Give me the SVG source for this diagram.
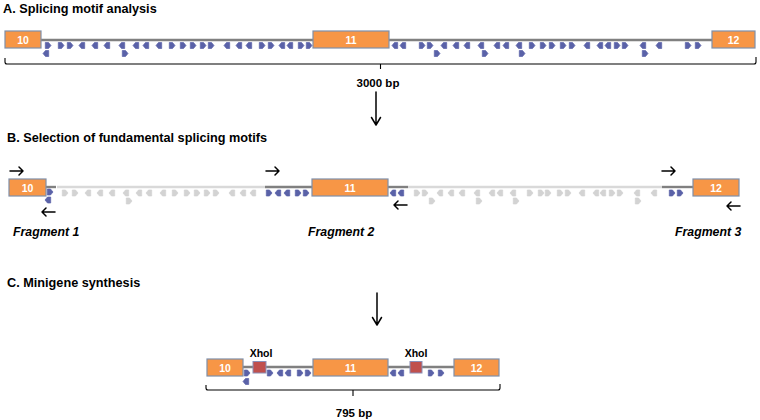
<svg xmlns="http://www.w3.org/2000/svg" xmlns:xlink="http://www.w3.org/1999/xlink" width="760" height="420" viewBox="0 0 760 420">
<style>
.title{font-family:"Liberation Sans",Arial,sans-serif;font-weight:bold;font-size:12.7px;fill:#000}
.frag{font-family:"Liberation Sans",Arial,sans-serif;font-weight:bold;font-style:italic;font-size:12.3px;fill:#000}
.bp{font-family:"Liberation Sans",Arial,sans-serif;font-weight:bold;font-size:11.5px;fill:#000;text-anchor:middle}
.xho{font-family:"Liberation Sans",Arial,sans-serif;font-weight:bold;font-size:10.5px;fill:#000;text-anchor:middle}
.exon rect{fill:#F79646;stroke:#7F8FA9;stroke-width:1.2}
.exon text{font-family:"Liberation Sans",Arial,sans-serif;font-weight:bold;font-size:10.5px;fill:#fff;text-anchor:middle}
.intron{stroke:#808080;stroke-width:2.4;fill:none}
.lt{stroke:#d9d9d9;stroke-width:2.4;fill:none}
.b{fill:#5A62A8;stroke:#5A62A8}
.g{fill:#d3d3d3;stroke:#d3d3d3}
.brk{stroke:#000;stroke-width:1.1;fill:none}
.arr{stroke:#000;stroke-width:1.5;fill:none;stroke-linecap:round;stroke-linejoin:round}
.xbox{fill:#C0504D;stroke:#8A8FB8;stroke-width:1}
</style>
<defs>
<path id="R" d="M-2.7,-3 H0.5 L3,0 L0.5,3 H-2.7 Z" stroke-width="0.7" stroke-linejoin="round"/>
<path id="L" d="M2.7,-3 H-0.5 L-3,0 L-0.5,3 H2.7 Z" stroke-width="0.7" stroke-linejoin="round"/>
</defs>

<!-- Section A -->
<text class="title" x="3" y="13">A. Splicing motif analysis</text>
<g id="A-introns">
<line class="intron" x1="41" y1="40" x2="313" y2="40"/>
<line class="intron" x1="389" y1="40" x2="712" y2="40"/>
</g>
<g id="A-exon10" class="exon"><rect x="5" y="31" width="36" height="17"/><text x="23" y="43.5">10</text></g>
<g id="A-exon11" class="exon"><rect x="313" y="31" width="76" height="17"/><text x="351" y="43.5">11</text></g>
<g id="A-exon12" class="exon"><rect x="712" y="31" width="43" height="17"/><text x="733.5" y="43.5">12</text></g>
<g id="A-motifs" class="b">
<use xlink:href="#R" x="48" y="45.5"/><use xlink:href="#L" x="46" y="53.5"/>
<use xlink:href="#R" x="61" y="45.5"/><use xlink:href="#R" x="70" y="45.5"/>
<use xlink:href="#L" x="82" y="45.5"/><use xlink:href="#L" x="95" y="45.5"/><use xlink:href="#L" x="107" y="45.5"/>
<use xlink:href="#L" x="122" y="45.5"/><use xlink:href="#R" x="125" y="53.5"/>
<use xlink:href="#L" x="136" y="45.5"/><use xlink:href="#L" x="146" y="45.5"/><use xlink:href="#L" x="159" y="45.5"/>
<use xlink:href="#R" x="172" y="45.5"/><use xlink:href="#R" x="183" y="45.5"/><use xlink:href="#R" x="193" y="45.5"/>
<use xlink:href="#R" x="203" y="45.5"/><use xlink:href="#R" x="211" y="45.5"/>
<use xlink:href="#L" x="227" y="45.5"/><use xlink:href="#L" x="239" y="45.5"/><use xlink:href="#L" x="249" y="45.5"/>
<use xlink:href="#R" x="262" y="45.5"/><use xlink:href="#R" x="271" y="45.5"/>
<use xlink:href="#L" x="282" y="45.5"/><use xlink:href="#L" x="290" y="45.5"/>
<use xlink:href="#R" x="301" y="45.5"/><use xlink:href="#R" x="309" y="45.5"/>

<use xlink:href="#L" x="395" y="45.5"/><use xlink:href="#L" x="403" y="45.5"/>
<use xlink:href="#R" x="422" y="45.5"/><use xlink:href="#R" x="430" y="45.5"/><use xlink:href="#R" x="437" y="53.5"/>
<use xlink:href="#L" x="444" y="45.5"/><use xlink:href="#L" x="456" y="45.5"/><use xlink:href="#L" x="467" y="45.5"/>
<use xlink:href="#L" x="481" y="45.5"/><use xlink:href="#R" x="485" y="53.5"/>
<use xlink:href="#L" x="497" y="45.5"/><use xlink:href="#L" x="506" y="45.5"/>
<use xlink:href="#L" x="519" y="45.5"/><use xlink:href="#R" x="522" y="53.5"/>
<use xlink:href="#R" x="532" y="45.5"/><use xlink:href="#R" x="543" y="45.5"/><use xlink:href="#R" x="552" y="45.5"/>
<use xlink:href="#R" x="563" y="45.5"/><use xlink:href="#R" x="572" y="45.5"/>
<use xlink:href="#L" x="587" y="45.5"/><use xlink:href="#L" x="600" y="45.5"/><use xlink:href="#L" x="608" y="45.5"/>
<use xlink:href="#R" x="617" y="45.5"/><use xlink:href="#R" x="625" y="45.5"/>
<use xlink:href="#L" x="643" y="45.5"/><use xlink:href="#R" x="645" y="53.5"/>
<use xlink:href="#L" x="659" y="45.5"/>
<use xlink:href="#R" x="688" y="45.5"/><use xlink:href="#R" x="698" y="45.5"/>
</g>
<g id="A-bracket">
<path class="brk" d="M5,58 V62 Q5,64 7,64 H754 Q756,64 756,62 V57 M380.5,64 V69"/>
<text class="bp" x="378" y="87">3000 bp</text>
</g>

<!-- Section B -->
<text class="title" x="7" y="142">B. Selection of fundamental splicing motifs</text>
<g id="B-introns">
<line class="intron" x1="46" y1="187" x2="56" y2="187"/>
<line class="lt" x1="57" y1="187" x2="265" y2="187"/>
<line class="intron" x1="265" y1="187" x2="312" y2="187"/>
<line class="intron" x1="388" y1="187" x2="408" y2="187"/>
<line class="lt" x1="408" y1="187" x2="662" y2="187"/>
<line class="intron" x1="662" y1="187" x2="693" y2="187"/>
</g>
<g id="B-exon10" class="exon"><rect x="9" y="179" width="37" height="17"/><text x="27.5" y="191.5">10</text></g>
<g id="B-exon11" class="exon"><rect x="312" y="179" width="76" height="17"/><text x="350" y="191.5">11</text></g>
<g id="B-exon12" class="exon"><rect x="693" y="179" width="46" height="17"/><text x="716" y="191.5">12</text></g>
<g id="B-motifs-gray" class="g">
<use xlink:href="#R" x="65" y="193"/><use xlink:href="#R" x="75" y="193"/>
<use xlink:href="#L" x="88" y="193"/><use xlink:href="#L" x="100" y="193"/><use xlink:href="#L" x="112" y="193"/>
<use xlink:href="#L" x="126" y="193"/><use xlink:href="#R" x="129" y="201"/>
<use xlink:href="#L" x="139" y="193"/><use xlink:href="#L" x="149" y="193"/><use xlink:href="#L" x="163" y="193"/>
<use xlink:href="#R" x="175" y="193"/><use xlink:href="#R" x="187" y="193"/><use xlink:href="#R" x="197" y="193"/>
<use xlink:href="#R" x="207" y="193"/><use xlink:href="#R" x="216" y="193"/>
<use xlink:href="#L" x="232" y="193"/><use xlink:href="#L" x="243" y="193"/><use xlink:href="#L" x="253" y="193"/>

<use xlink:href="#R" x="417" y="193"/><use xlink:href="#R" x="425" y="193"/><use xlink:href="#R" x="432" y="201"/>
<use xlink:href="#L" x="440" y="193"/><use xlink:href="#L" x="451" y="193"/><use xlink:href="#L" x="462" y="193"/>
<use xlink:href="#L" x="477" y="193"/><use xlink:href="#R" x="479" y="201"/>
<use xlink:href="#L" x="492" y="193"/><use xlink:href="#L" x="500" y="193"/>
<use xlink:href="#L" x="513" y="193"/><use xlink:href="#R" x="516" y="201"/>
<use xlink:href="#R" x="530" y="193"/><use xlink:href="#R" x="541" y="193"/><use xlink:href="#R" x="548" y="193"/>
<use xlink:href="#R" x="560" y="193"/><use xlink:href="#R" x="568" y="193"/>
<use xlink:href="#L" x="582" y="193"/><use xlink:href="#L" x="596" y="193"/><use xlink:href="#L" x="603" y="193"/>
<use xlink:href="#R" x="612" y="193"/><use xlink:href="#R" x="620" y="193"/>
<use xlink:href="#L" x="637" y="193"/><use xlink:href="#R" x="638" y="201"/>
<use xlink:href="#L" x="654" y="193"/>
</g>
<g id="B-motifs-blue" class="b">
<use xlink:href="#R" x="50" y="192"/><use xlink:href="#L" x="48" y="200"/>
<use xlink:href="#R" x="269" y="193"/><use xlink:href="#L" x="278" y="193"/><use xlink:href="#L" x="287" y="193"/>
<use xlink:href="#R" x="298" y="193"/><use xlink:href="#R" x="306" y="193"/>
<use xlink:href="#L" x="393" y="193"/><use xlink:href="#L" x="401" y="193"/>
<use xlink:href="#R" x="672" y="193"/><use xlink:href="#R" x="680" y="193"/>
</g>
<g id="primers">
<path class="arr" d="M10,171 H23 M19,167 L23,171 L19,175"/>
<path class="arr" d="M42,212 H55 M46,208 L42,212 L46,216"/>
<path class="arr" d="M266,171 H279 M275,167 L279,171 L275,175"/>
<path class="arr" d="M394,205 H407 M398,201 L394,205 L398,209"/>
<path class="arr" d="M662,171 H675 M671,167 L675,171 L671,175"/>
<path class="arr" d="M727,206 H740 M731,202 L727,206 L731,210"/>
</g>
<text class="frag" x="13" y="236">Fragment 1</text>
<text class="frag" x="308" y="236">Fragment 2</text>
<text class="frag" x="675" y="236">Fragment 3</text>

<!-- connectors -->
<g id="connectors">
<path class="arr" d="M376,92 V125 M371.5,117.5 L376,125 L380.5,117.5"/>
<path class="arr" d="M377,293 V325 M372.5,317.5 L377,325 L381.5,317.5"/>
</g>

<!-- Section C -->
<text class="title" x="7" y="287">C. Minigene synthesis</text>
<g id="C-introns">
<line class="intron" x1="243" y1="367" x2="313" y2="367"/>
<line class="intron" x1="388" y1="367" x2="454" y2="367"/>
</g>
<g id="C-exon10" class="exon"><rect x="207" y="359" width="36" height="17"/><text x="225" y="371.5">10</text></g>
<g id="C-exon11" class="exon"><rect x="313" y="359" width="75" height="17"/><text x="350.5" y="371.5">11</text></g>
<g id="C-exon12" class="exon"><rect x="454" y="359" width="45" height="17"/><text x="476.5" y="371.5">12</text></g>
<g id="C-xho1"><rect class="xbox" x="253" y="361.5" width="13" height="11.5"/><text class="xho" x="261" y="357">XhoI</text></g>
<g id="C-xho2"><rect class="xbox" x="410" y="361.5" width="12" height="11.5"/><text class="xho" x="416" y="357">XhoI</text></g>
<g id="C-motifs" class="b">
<use xlink:href="#R" x="247" y="373"/><use xlink:href="#L" x="246" y="381.5"/>
<use xlink:href="#R" x="270" y="373"/><use xlink:href="#L" x="280" y="373"/><use xlink:href="#L" x="288" y="373"/>
<use xlink:href="#R" x="300" y="373"/><use xlink:href="#R" x="308" y="373"/>
<use xlink:href="#L" x="393" y="373"/><use xlink:href="#L" x="401" y="373"/>
<use xlink:href="#R" x="431" y="373"/><use xlink:href="#R" x="441" y="373"/>
</g>
<g id="C-bracket">
<path class="brk" d="M206,385 V388 Q206,390 208,390 H498 Q500,390 500,388 V384 M353,390 V396"/>
<text class="bp" x="354" y="417">795 bp</text>
</g>
</svg>
